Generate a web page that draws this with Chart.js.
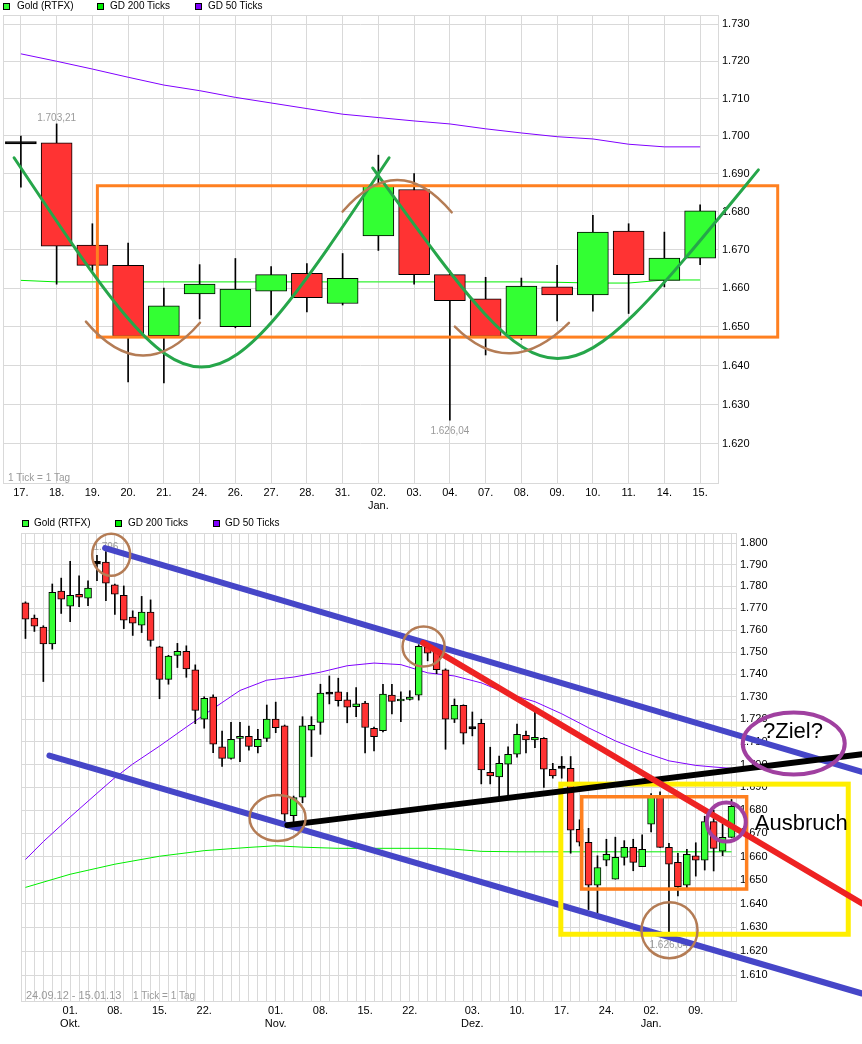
<!DOCTYPE html>
<html>
<head>
<meta charset="utf-8">
<script src="https://cdn.jsdelivr.net/npm/chart.js@4.4.1/dist/chart.umd.min.js"></script>
<style>
  body { margin: 0; background: #fff; }
  #page { position: relative; width: 862px; height: 1044px; font-family: 'Liberation Sans', Arial, sans-serif; }
  canvas { position: absolute; left: 0; }
  .key { position: absolute; font-size: 10px; line-height: 12px; white-space: nowrap; color: #000; }
  .key i { position: absolute; left: 0; top: 3px; width: 5px; height: 5px; border: 1px solid #000; }
</style>
</head>
<body>
<div id="page">
  <canvas id="topChart" width="862" height="512" style="top:0"></canvas>
  <canvas id="bottomChart" width="862" height="532" style="top:512px"></canvas>

  <div class="key" style="left:3px;top:0"><i style="background:#33ff33"></i><span style="margin-left:14px">Gold (RTFX)</span></div>
  <div class="key" style="left:97px;top:0"><i style="background:#00ee00"></i><span style="margin-left:13px">GD 200 Ticks</span></div>
  <div class="key" style="left:195px;top:0"><i style="background:#8000ff"></i><span style="margin-left:13px">GD 50 Ticks</span></div>

  <div class="key" style="left:22px;top:517px"><i style="background:#33ff33"></i><span style="margin-left:12px">Gold (RTFX)</span></div>
  <div class="key" style="left:115px;top:517px"><i style="background:#00ee00"></i><span style="margin-left:13px">GD 200 Ticks</span></div>
  <div class="key" style="left:213px;top:517px"><i style="background:#8000ff"></i><span style="margin-left:12px">GD 50 Ticks</span></div>
</div>

<script>
const FONT = "'Liberation Sans', Arial, sans-serif";
const GRID = '#d9d9d9';
const UP = '#33ff33';
const DOWN = '#ff3333';
const LABEL_GRAY = '#9a9a9a';

// ---- oberer Chart: 17.12.12 - 15.01.13
const topDays = ['17.', '18.', '19.', '20.', '21.', '24.', '26.', '27.', '28.', '31.', ['02.', 'Jan.'], '03.', '04.', '07.', '08.', '09.', '10.', '11.', '14.', '15.'];
const topOpen  = [1698.2, 1698.2, 1671.2, 1665.9, 1647.7, 1658.5, 1650.0, 1659.2, 1663.8, 1656.0, 1673.6, 1685.8, 1663.5, 1657.2, 1647.7, 1660.3, 1658.2, 1674.9, 1662.0, 1667.8];
const topHigh  = [1700.0, 1703.21, 1676.8, 1671.7, 1660.0, 1666.1, 1667.7, 1665.6, 1666.4, 1669.0, 1694.9, 1690.0, 1664.5, 1662.8, 1662.6, 1665.9, 1679.0, 1676.8, 1674.6, 1681.8];
const topLow   = [1686.4, 1661.0, 1664.5, 1635.8, 1635.5, 1652.0, 1649.7, 1653.0, 1653.8, 1655.6, 1669.8, 1661.0, 1626.04, 1642.7, 1646.7, 1651.5, 1654.0, 1653.4, 1660.3, 1666.1];
const topClose = [1698.2, 1670.9, 1665.9, 1647.5, 1655.4, 1661.0, 1659.7, 1663.5, 1657.5, 1662.5, 1686.7, 1663.5, 1656.7, 1647.5, 1660.5, 1658.2, 1674.6, 1663.5, 1667.8, 1680.2];
const topGd200 = [1662.0, 1661.6, 1661.6, 1661.6, 1661.6, 1661.6, 1661.6, 1661.6, 1661.6, 1661.6, 1661.6, 1661.6, 1661.6, 1661.6, 1661.6, 1661.5, 1661.3, 1661.3, 1662.1, 1662.1];
const topGd50  = [1722.0, 1720.0, 1717.9, 1715.7, 1713.6, 1712.1, 1710.3, 1708.8, 1707.3, 1705.8, 1704.9, 1704.0, 1703.2, 1701.9, 1700.8, 1699.8, 1699.2, 1697.8, 1697.1, 1697.1];
const topTicks = [1620, 1630, 1640, 1650, 1660, 1670, 1680, 1690, 1700, 1710, 1720, 1730];

// Einzeichnungen oben (Kategorie-Index, Kurs)
const topBox = [2.14, 1686.8, 21.17, 1647.3];
const topCurves = [
  [[-0.19, 1694.2], [5.01, 1621.8], [5.09, 1621.8], [10.30, 1694.2]],
  [[9.84, 1691.5], [15.02, 1625.6], [14.85, 1625.6], [20.63, 1691.0]]
];
const topArcs = [
  [[1.82, 1651.3], [3.41, 1634.0], [5.01, 1651.0]],
  [[9.00, 1680.0], [10.54, 1696.8], [12.05, 1679.8]],
  [[12.14, 1650.0], [13.67, 1635.8], [15.33, 1651.0]]
];

// ---- unterer Chart: 24.09.12 - 15.01.13
const bottomDays = [
  '24.09', '25.09', '26.09', '27.09', '28.09',
  '01.10', '02.10', '03.10', '04.10', '05.10', '08.10', '09.10', '10.10', '11.10', '12.10',
  '15.10', '16.10', '17.10', '18.10', '19.10', '22.10', '23.10', '24.10', '25.10', '26.10',
  '29.10', '30.10', '31.10',
  '01.11', '02.11', '05.11', '06.11', '07.11', '08.11', '09.11', '12.11', '13.11', '14.11',
  '15.11', '16.11', '19.11', '20.11', '21.11', '22.11', '23.11', '26.11', '27.11', '28.11',
  '29.11', '30.11',
  '03.12', '04.12', '05.12', '06.12', '07.12', '10.12', '11.12', '12.12', '13.12', '14.12',
  '17.12', '18.12', '19.12', '20.12', '21.12', '24.12', '26.12', '27.12', '28.12', '31.12',
  '02.01', '03.01', '04.01', '07.01', '08.01', '09.01', '10.01', '11.01', '14.01', '15.01'
];
const bottomTickLabels = {
  '01.10': ['01.', 'Okt.'], '08.10': '08.', '15.10': '15.', '22.10': '22.',
  '01.11': ['01.', 'Nov.'], '08.11': '08.', '15.11': '15.', '22.11': '22.',
  '03.12': ['03.', 'Dez.'], '10.12': '10.', '17.12': '17.', '24.12': '24.',
  '02.01': ['02.', 'Jan.'], '09.01': '09.'
};
const bottomOpen = [
  1772.4, 1765.5, 1761.4, 1753.8, 1777.8, 1770.9, 1776.4, 1774.6, 1791.0, 1791.2,
  1780.7, 1775.9, 1766.0, 1762.3, 1768.2, 1752.4, 1737.8, 1748.6, 1750.4, 1742.1,
  1720.0, 1729.8, 1707.8, 1702.7, 1711.5, 1712.4, 1707.8, 1711.5, 1720.0, 1717.0,
  1677.7, 1685.7, 1715.1, 1718.6, 1731.6, 1732.2, 1728.6, 1725.6, 1727.2, 1715.9,
  1714.9, 1730.7, 1728.1, 1728.8, 1730.7, 1752.2, 1750.5, 1742.1, 1720.0, 1726.2,
  1716.2, 1718.2, 1696.6, 1694.5, 1700.1, 1704.5, 1712.9, 1710.8, 1711.5, 1697.9,
  1698.8, 1698.3, 1671.8, 1666.2, 1647.9, 1658.5, 1650.4, 1659.7, 1664.0, 1655.7,
  1674.0, 1685.8, 1664.0, 1657.6, 1647.9, 1660.4, 1658.5, 1675.1, 1662.4, 1668.3
];
const bottomHigh = [
  1772.9, 1766.9, 1762.0, 1781.1, 1783.8, 1791.6, 1784.8, 1782.5, 1794.3, 1796.1,
  1781.0, 1780.2, 1768.8, 1775.4, 1773.8, 1752.7, 1748.6, 1754.0, 1752.9, 1744.3,
  1730.0, 1730.8, 1714.7, 1718.6, 1718.6, 1716.9, 1715.5, 1726.3, 1727.6, 1717.4,
  1686.2, 1721.1, 1721.1, 1735.6, 1739.3, 1738.3, 1731.9, 1734.1, 1727.9, 1716.5,
  1735.6, 1735.6, 1732.2, 1732.7, 1753.4, 1753.5, 1753.5, 1742.5, 1729.0, 1726.4,
  1723.2, 1720.0, 1707.6, 1703.7, 1707.8, 1717.8, 1714.7, 1723.3, 1711.8, 1700.5,
  1703.5, 1703.5, 1675.9, 1672.2, 1660.4, 1667.5, 1668.4, 1666.9, 1667.5, 1669.4,
  1687.3, 1688.0, 1665.7, 1661.5, 1663.2, 1666.0, 1677.4, 1680.1, 1674.1, 1684.7
];
const bottomLow = [
  1756.2, 1759.4, 1736.8, 1751.4, 1767.6, 1763.9, 1770.7, 1771.2, 1782.6, 1773.5,
  1767.2, 1760.7, 1757.6, 1758.9, 1752.7, 1729.1, 1735.6, 1743.1, 1738.7, 1718.0,
  1716.0, 1705.2, 1699.2, 1702.3, 1701.2, 1706.3, 1705.1, 1710.1, 1714.0, 1674.7,
  1674.7, 1683.3, 1703.5, 1713.3, 1726.8, 1725.8, 1718.4, 1721.1, 1705.1, 1706.0,
  1714.4, 1722.3, 1718.9, 1728.5, 1728.5, 1746.1, 1740.3, 1706.7, 1718.5, 1709.0,
  1712.6, 1691.5, 1691.5, 1686.0, 1686.4, 1703.2, 1705.1, 1707.4, 1690.0, 1694.0,
  1694.0, 1661.5, 1664.6, 1637.5, 1635.9, 1656.1, 1650.4, 1656.4, 1654.0, 1655.7,
  1670.7, 1664.0, 1626.04, 1643.3, 1646.8, 1651.7, 1654.3, 1653.9, 1660.4, 1668.3
];
const bottomClose = [
  1765.0, 1761.8, 1753.8, 1777.3, 1774.1, 1775.9, 1775.0, 1779.2, 1791.0, 1781.5,
  1776.4, 1764.5, 1763.2, 1768.2, 1755.3, 1737.8, 1748.2, 1750.4, 1742.5, 1723.9,
  1729.3, 1708.9, 1702.7, 1711.1, 1712.4, 1708.0, 1711.1, 1720.0, 1716.2, 1678.3,
  1685.5, 1717.0, 1717.3, 1731.6, 1731.6, 1728.2, 1725.3, 1726.8, 1716.3, 1712.2,
  1731.2, 1727.9, 1729.0, 1729.9, 1752.7, 1749.6, 1742.1, 1720.0, 1726.2, 1713.8,
  1716.2, 1697.6, 1695.0, 1700.5, 1704.5, 1713.3, 1710.8, 1712.0, 1697.9, 1695.0,
  1698.8, 1671.4, 1666.2, 1647.9, 1655.4, 1661.0, 1659.7, 1664.0, 1657.6, 1663.2,
  1685.8, 1664.0, 1656.8, 1647.2, 1661.0, 1658.5, 1675.1, 1663.6, 1668.3, 1681.7
];
const gd200Days   = ['24.09', '01.10', '08.10', '15.10', '22.10', '29.10', '01.11', '06.11', '12.11', '19.11', '26.11', '29.11', '04.12', '10.12', '17.12', '24.12', '02.01', '09.01', '15.01'];
const gd200Values = [1646.9, 1652.5, 1656.8, 1660.2, 1662.6, 1664.0, 1664.7, 1664.1, 1663.6, 1663.6, 1663.6, 1663.2, 1662.3, 1662.1, 1662.1, 1662.1, 1662.1, 1662.1, 1662.1];
const gd50Days    = ['24.09', '26.09', '01.10', '04.10', '08.10', '10.10', '15.10', '18.10', '23.10', '26.10', '31.10', '05.11', '08.11', '13.11', '16.11', '21.11', '26.11', '29.11', '04.12', '07.12', '12.12', '17.12', '20.12', '26.12', '31.12', '04.01', '09.01', '11.01', '15.01'];
const gd50Values  = [1658.8, 1666.5, 1677.1, 1687.4, 1694.2, 1700.2, 1708.1, 1716.5, 1724.7, 1732.8, 1737.4, 1738.8, 1741.0, 1743.9, 1745.1, 1744.4, 1740.7, 1739.3, 1736.2, 1731.3, 1727.8, 1722.4, 1716.2, 1710.4, 1705.6, 1701.6, 1699.6, 1698.9, 1698.3];
const bottomTicks = [1610, 1620, 1630, 1640, 1650, 1660, 1670, 1680, 1690, 1700, 1710, 1720, 1730, 1740, 1750, 1760, 1770, 1780, 1790, 1800];

// Einzeichnungen unten (Kategorie-Index, Kurs)
const bottomChannel = [[[8.91, 1797.7], [93.6, 1696.8]], [[2.68, 1703.9], [93.6, 1602.4]]];
const bottomDownTrend = [[44.49, 1754.2], [93.6, 1640.1]];
const bottomSupport = [[29.3, 1673.6], [93.6, 1704.5]];
const bottomZone = [59.9, 1691.4, 92.06, 1627.1];
const bottomRange = [62.24, 1685.9, 80.69, 1646.2];
const bottomRings = [[9.59, 1794.6, 19, 21], [44.54, 1752.6, 21, 20], [28.21, 1676.7, 28, 23], [72.06, 1628.8, 28, 28]];
const bottomTargets = [[85.96, 1709.2, 51, 31], [78.41, 1674.9, 19.5, 19.5]];
const bottomTexts = [['?Ziel?', 85.87, 1711.5, 'center'], ['Ausbruch', 81.6, 1671.5, 'left']];

Chart.defaults.font.family = FONT;

function candleSets(open, high, low, close, width, doji) {
  const bodies = [], colors = [], wicks = [];
  for (let k = 0; k < open.length; k++) {
    const o = open[k], c = close[k];
    // doji: thin black body, looks like the cross bar of the original
    if (Math.abs(o - c) < doji) {
      bodies.push([o - doji, o + doji]);
      colors.push('#000');
    } else {
      bodies.push([Math.min(o, c), Math.max(o, c)]);
      colors.push(c >= o ? UP : DOWN);
    }
    wicks.push([low[k], high[k]]);
  }
  return [
    {label: 'Gold (RTFX)', data: bodies, backgroundColor: colors, borderColor: '#000', borderWidth: 1,
     borderSkipped: false, barThickness: width, grouped: false, order: 1},
    {label: 'Docht', data: wicks, backgroundColor: '#000', barThickness: 1, grouped: false, order: 2}
  ];
}

function avgLine(label, data, color) {
  return {type: 'line', label: label, data: data, borderColor: color, borderWidth: 1, pointRadius: 0,
          tension: 0, spanGaps: true, order: 3};
}

function pairs(days, values) {
  return days.map((d, k) => ({x: d, y: values[k]}));
}

function de(v, d) {
  const parts = v.toFixed(d).split('.');
  return parts[0].replace(/\B(?=(\d{3})+(?!\d))/g, '.') + (parts[1] ? ',' + parts[1] : '');
}

function pt(chart, p) {
  return [chart.scales.x.getPixelForValue(p[0]), chart.scales.y.getPixelForValue(p[1])];
}

function pen(ctx, color, w) {
  ctx.strokeStyle = color;
  ctx.lineWidth = w;
  ctx.lineCap = 'round';
  ctx.lineJoin = 'round';
}

function box(chart, b, color, w) {
  const ctx = chart.ctx;
  const a = pt(chart, [b[0], b[1]]), z = pt(chart, [b[2], b[3]]);
  pen(ctx, color, w);
  ctx.lineJoin = 'miter';
  ctx.strokeRect(a[0], a[1], z[0] - a[0], z[1] - a[1]);
}

function segment(chart, s, color, w) {
  const ctx = chart.ctx;
  const a = pt(chart, s[0]), z = pt(chart, s[1]);
  pen(ctx, color, w);
  ctx.beginPath();
  ctx.moveTo(a[0], a[1]);
  ctx.lineTo(z[0], z[1]);
  ctx.stroke();
}

function cubic(chart, c, color, w) {
  const ctx = chart.ctx;
  const p = c.map(q => pt(chart, q));
  pen(ctx, color, w);
  ctx.beginPath();
  ctx.moveTo(p[0][0], p[0][1]);
  ctx.bezierCurveTo(p[1][0], p[1][1], p[2][0], p[2][1], p[3][0], p[3][1]);
  ctx.stroke();
}

function quad(chart, c, color, w) {
  const ctx = chart.ctx;
  const p = c.map(q => pt(chart, q));
  pen(ctx, color, w);
  ctx.beginPath();
  ctx.moveTo(p[0][0], p[0][1]);
  ctx.quadraticCurveTo(p[1][0], p[1][1], p[2][0], p[2][1]);
  ctx.stroke();
}

function ring(chart, r, color, w) {
  const ctx = chart.ctx;
  const c = pt(chart, [r[0], r[1]]);
  pen(ctx, color, w);
  ctx.beginPath();
  ctx.ellipse(c[0], c[1], r[2], r[3], 0, 0, 2 * Math.PI);
  ctx.stroke();
}

// Hoch- und Tiefkurs beschriften
function extremes(chart, high, low, hiDigits, hiGap, loGap) {
  const ctx = chart.ctx;
  const hi = high.indexOf(Math.max(...high));
  const lo = low.indexOf(Math.min(...low));
  ctx.font = '10px ' + FONT;
  ctx.fillStyle = LABEL_GRAY;
  ctx.textAlign = 'center';
  let p = pt(chart, [hi, high[hi]]);
  ctx.textBaseline = 'alphabetic';
  ctx.fillText(de(high[hi], hiDigits), p[0], p[1] - hiGap);
  p = pt(chart, [lo, low[lo]]);
  ctx.textBaseline = 'top';
  ctx.fillText(de(low[lo], 2), p[0], p[1] + loGap);
}

const frame = {
  id: 'frame',
  beforeDatasetsDraw(chart) {
    const ctx = chart.ctx, a = chart.chartArea;
    ctx.save();
    ctx.strokeStyle = GRID;
    ctx.lineWidth = 1;
    ctx.strokeRect(Math.round(a.left) + 0.5, Math.round(a.top) + 0.5, Math.round(a.right - a.left), Math.round(a.bottom - a.top));
    ctx.restore();
  }
};

const topNotes = {
  id: 'topNotes',
  afterDraw(chart) {
    const ctx = chart.ctx, a = chart.chartArea;
    ctx.save();
    extremes(chart, topHigh, topLow, 2, 3, 6);
    ctx.textAlign = 'left';
    ctx.textBaseline = 'alphabetic';
    ctx.fillText('1 Tick = 1 Tag', a.left + 5, a.bottom - 2);
    box(chart, topBox, '#ff8020', 3);
    topCurves.forEach(c => cubic(chart, c, '#26a64a', 3));
    topArcs.forEach(c => quad(chart, c, '#b47c55', 2.5));
    ctx.restore();
  }
};

const bottomNotes = {
  id: 'bottomNotes',
  afterDraw(chart) {
    const ctx = chart.ctx, a = chart.chartArea;
    ctx.save();
    extremes(chart, bottomHigh, bottomLow, 0, 2, 3);
    ctx.textAlign = 'left';
    ctx.textBaseline = 'alphabetic';
    ctx.font = '11px ' + FONT;
    ctx.fillText('24.09.12 - 15.01.13', a.left + 5, a.bottom - 2);
    ctx.font = '10px ' + FONT;
    ctx.fillText('1 Tick = 1 Tag', a.left + 112, a.bottom - 2);

    bottomChannel.forEach(s => segment(chart, s, '#4646c8', 6));
    box(chart, bottomZone, '#ffee00', 5);
    box(chart, bottomRange, '#ff8020', 3.5);
    segment(chart, bottomSupport, '#000', 6);
    segment(chart, bottomDownTrend, '#ee2222', 6);
    bottomRings.forEach(r => ring(chart, r, '#b47c55', 2.5));
    bottomTargets.forEach(r => ring(chart, r, '#a040a0', 4));

    ctx.font = '22px ' + FONT;
    ctx.fillStyle = '#000';
    ctx.textBaseline = 'alphabetic';
    bottomTexts.forEach(t => {
      const p = pt(chart, [t[1], t[2]]);
      ctx.textAlign = t[3];
      ctx.fillText(t[0], p[0], p[1]);
    });
    ctx.restore();
  }
};

function makeChart(id, cfg) {
  return new Chart(document.getElementById(id), {
    type: 'bar',
    data: {labels: cfg.labels, datasets: cfg.datasets},
    options: {
      responsive: false,
      animation: false,
      devicePixelRatio: 1,
      layout: {padding: cfg.padding},
      plugins: {legend: {display: false}, tooltip: {enabled: false}},
      scales: {
        x: {
          grid: {color: GRID, offset: false, drawTicks: false},
          border: {color: GRID},
          ticks: {autoSkip: false, maxRotation: 0, minRotation: 0, padding: 4, color: '#000',
                  font: {size: 11, lineHeight: 1.13}, callback: cfg.xLabel},
          afterFit: s => { s.height = cfg.xHeight; }
        },
        y: {
          type: 'logarithmic',
          position: 'right',
          bounds: 'data',
          min: cfg.min,
          max: cfg.max,
          grid: {color: GRID, drawTicks: false},
          border: {color: GRID},
          ticks: {padding: 4, color: '#000', font: {size: 11}, callback: v => (v / 1000).toFixed(3)},
          afterBuildTicks: s => { s.ticks = cfg.ticks.map(v => ({value: v})); },
          afterFit: s => { s.width = cfg.yWidth; }
        }
      }
    },
    plugins: [frame, cfg.notes]
  });
}

makeChart('topChart', {
  labels: topDays,
  datasets: [
    avgLine('GD 50 Ticks', topGd50, '#8000ff'),
    avgLine('GD 200 Ticks', topGd200, '#00ee00'),
    ...candleSets(topOpen, topHigh, topLow, topClose, 31, 0.3)
  ],
  padding: {left: 3, top: 15, right: 0, bottom: 0},
  xHeight: 29,
  yWidth: 144,
  min: 1610.1,
  max: 1732.5,
  ticks: topTicks,
  xLabel: (v, i) => topDays[i],
  notes: topNotes
});

makeChart('bottomChart', {
  labels: bottomDays,
  datasets: [
    avgLine('GD 50 Ticks', pairs(gd50Days, gd50Values), '#8000ff'),
    avgLine('GD 200 Ticks', pairs(gd200Days, gd200Values), '#00ee00'),
    ...candleSets(bottomOpen, bottomHigh, bottomLow, bottomClose, 7, 0.5)
  ],
  padding: {left: 21, top: 21, right: 0, bottom: 0},
  xHeight: 43,
  yWidth: 126,
  min: 1599.3,
  max: 1804.7,
  ticks: bottomTicks,
  xLabel: (v, i) => bottomTickLabels[bottomDays[i]] || '',
  notes: bottomNotes
});
</script>
</body>
</html>
